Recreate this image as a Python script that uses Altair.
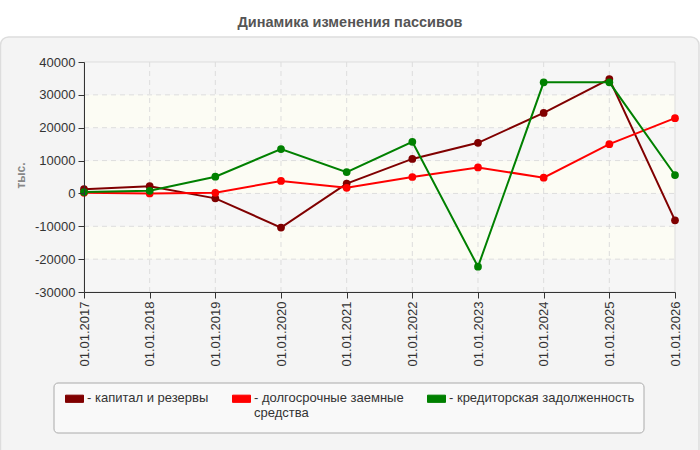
import altair as alt
import pandas as pd

dates = ["01.01.2017", "01.01.2018", "01.01.2019", "01.01.2020", "01.01.2021",
         "01.01.2022", "01.01.2023", "01.01.2024", "01.01.2025", "01.01.2026"]
series_names = ["капитал и резервы", "долгосрочные заемные средства", "кредиторская задолженность"]
series_colors = ["#800000", "#ff0000", "#008000"]
capital = [1300, 2200, -1500, -10400, 3000, 10500, 15400, 24500, 34800, -8200]
longterm = [200, 0, 200, 3800, 1700, 5000, 7900, 4800, 15000, 22900]
payables = [400, 800, 5100, 13500, 6500, 15700, -22300, 33800, 33800, 5600]
y_ticks = [-30000, -20000, -10000, 0, 10000, 20000, 30000, 40000]
band_lo = [-30000, -20000, -10000, 0, 10000, 20000, 30000]
band_hi = [-20000, -10000, 0, 10000, 20000, 30000, 40000]
band_kind = ["a", "b", "a", "b", "a", "b", "a"]

FONT = "Liberation Sans"
W, H = 591, 230
PAD_L, PAD_T = 84, 62

rows = []
for name, vals in zip(series_names, [capital, longterm, payables]):
    for d, v in zip(dates, vals):
        rows.append({"date": d, "series": name, "value": v})
df = pd.DataFrame(rows)

bands = pd.DataFrame({"lo": band_lo, "hi": band_hi, "kind": band_kind})
ygrid = pd.DataFrame({"v": y_ticks[1:-1]})
xgrid = pd.DataFrame({"date": dates[1:-1]})

xscale = alt.Scale(type="point", domain=dates, padding=0)
yscale = alt.Scale(domain=[-30000, 40000], nice=False, zero=False)
cscale = alt.Scale(domain=series_names, range=series_colors)

yaxis = alt.Axis(
    values=y_ticks, title="тыс.", grid=False, domainColor="#333333", tickColor="#333333",
    labelColor="#333333", labelFontSize=13, labelFont=FONT, tickSize=6, labelPadding=3,
    labelExpr="datum.value + ''", labelOverlap=False,
    titleFont=FONT, titleFontSize=12, titleFontWeight="bold", titleColor="#888888",
    titleX=-64, titleY=113, titleAngle=270, titleAlign="center", titleBaseline="middle",
    zindex=1)

xaxis = alt.Axis(title=None, labelAngle=270, grid=False, domainColor="#333333", tickColor="#333333",
                 labelColor="#333333", labelFontSize=13, labelFont=FONT, tickSize=6, labelPadding=3,
                 labelOverlap=False, zindex=1)

label_expr = ("datum.label == 'долгосрочные заемные средства' ? "
              "['- долгосрочные заемные', '\u00a0\u00a0средства'] : ['- ' + datum.label, '\u00a0']")

legend = alt.Legend(
    title=None, orient="none", legendX=65 - PAD_L, legendY=382 - PAD_T, direction="horizontal",
    columns=3, columnPadding=21, labelExpr=label_expr, labelFont=FONT, labelFontSize=13,
    labelColor="#333333", labelLimit=300, labelBaseline="top", labelOffset=3,
    symbolType="M-1,0.38L1,0.38L1,1.18L-1,1.18Z", symbolSize=324, symbolStrokeColor="#777777",
    symbolStrokeWidth=1, symbolOpacity=1, zindex=1)

one = alt.Data(values=[{}])

panel = alt.Chart(one).mark_rect(
    fill="#f4f4f4", stroke="#dddddd", strokeWidth=1.5, cornerRadius=8
).encode(x=alt.value(-PAD_L + 0.5), x2=alt.value(699 - PAD_L), y=alt.value(37 - PAD_T), y2=alt.value(470 - PAD_T))

legend_box = alt.Chart(one).mark_rect(
    fill="#f9f9f9", stroke="#aaaaaa", strokeWidth=1, cornerRadius=4
).encode(x=alt.value(54 - PAD_L), x2=alt.value(644 - PAD_L), y=alt.value(383 - PAD_T), y2=alt.value(433 - PAD_T))

plot_bg = alt.Chart(bands).mark_rect().encode(
    x=alt.value(0), x2=alt.value(W),
    y=alt.Y("lo:Q", scale=yscale, axis=yaxis),
    y2="hi:Q",
    fill=alt.condition("datum.kind == 'a'", alt.value("#f6f6f6"), alt.value("#fcfcf4")),
)

plot_border = alt.Chart(one).mark_rect(fill=None, stroke="#dddddd", strokeWidth=1).encode(
    x=alt.value(0), x2=alt.value(W), y=alt.value(0), y2=alt.value(H))

ygrid_rules = alt.Chart(ygrid).mark_rule(color="#dddddd", strokeDash=[5, 4], strokeWidth=1).encode(
    y=alt.Y("v:Q", scale=yscale, axis=yaxis), x=alt.value(0), x2=alt.value(W))

xgrid_rules = alt.Chart(xgrid).mark_rule(color="#dddddd", strokeDash=[5, 4], strokeWidth=1).encode(
    x=alt.X("date:N", scale=xscale, axis=xaxis, sort=dates), y=alt.value(0), y2=alt.value(H))

lines = alt.Chart(df).mark_line(strokeWidth=2).encode(
    x=alt.X("date:N", scale=xscale, axis=xaxis, sort=dates),
    y=alt.Y("value:Q", scale=yscale, axis=yaxis),
    color=alt.Color("series:N", scale=cscale, sort=series_names, legend=legend),
    detail="series:N",
)

points = alt.Chart(df).mark_point(filled=True, size=60, opacity=1).encode(
    x=alt.X("date:N", scale=xscale, axis=xaxis, sort=dates),
    y=alt.Y("value:Q", scale=yscale, axis=yaxis),
    color=alt.Color("series:N", scale=cscale, sort=series_names, legend=legend),
)

chart = alt.layer(
    panel, legend_box, plot_bg, plot_border, ygrid_rules, xgrid_rules, lines, points
).properties(
    width=W, height=H,
    title=alt.Title("Динамика изменения пассивов", anchor="middle", frame="group", dx=-29.5,
                    offset=6, font=FONT, fontSize=14.5, fontWeight="bold", color="#555555"),
    autosize=alt.AutoSizeParams(type="none"),
    padding={"left": PAD_L, "top": PAD_T, "right": 700 - PAD_L - W, "bottom": 450 - PAD_T - H},
    background="white",
).configure_view(stroke=None)

chart.save("out.html", embed_options={"renderer": "svg", "actions": False})
